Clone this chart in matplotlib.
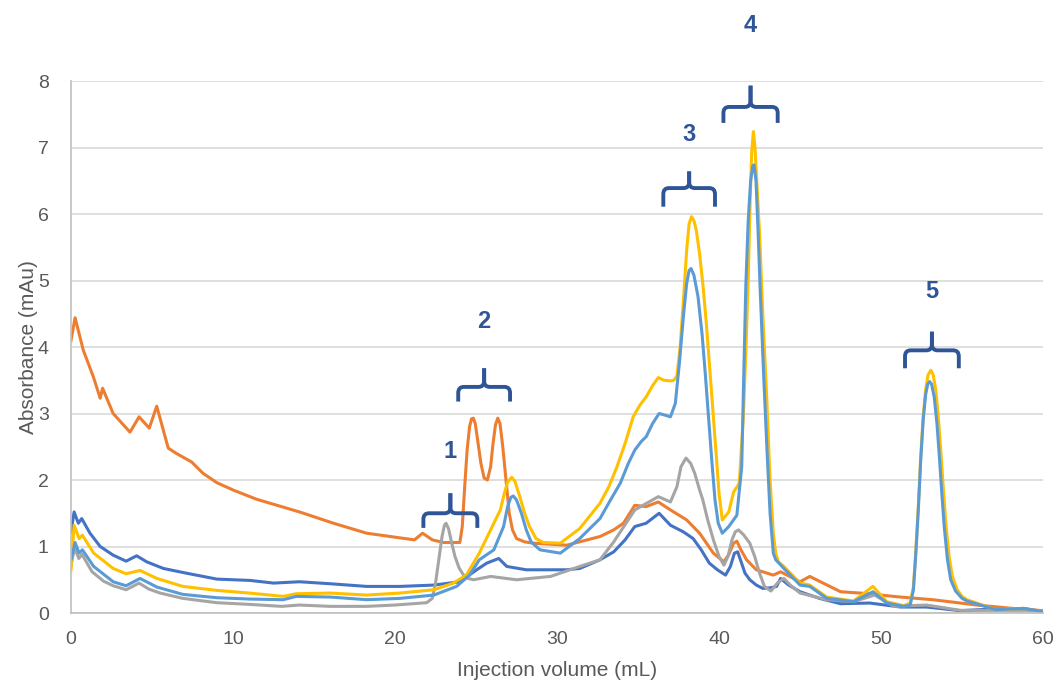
import matplotlib
matplotlib.use('Agg')
import matplotlib.pyplot as plt
from matplotlib.path import Path
from matplotlib.patches import PathPatch

plt.rcParams['font.family'] = ['Liberation Sans', 'DejaVu Sans']

# --- chromatogram traces ---
blue_x = [0, 0.19, 0.45, 0.66, 1.17, 1.8, 2.6, 3.4, 4.05, 4.67, 5.7, 7.1, 9.0, 11.05, 12.5, 14.1,
          16.0, 18.25, 20.3, 22.4, 24.0, 25.04, 25.66, 26.4, 26.9, 28.1, 30.6, 31.4, 32.65, 33.5,
          34.2, 34.8, 35.5, 36.3, 37.0, 37.8, 38.4, 38.9, 39.4, 39.9, 40.4, 40.7, 40.95, 41.15,
          41.35, 41.6, 41.9, 42.3, 42.7, 43.2, 43.55, 43.8, 44.3, 45.0, 46.2, 47.5, 49.3, 51.2,
          52.8, 54.9, 56.9, 59.0, 60]
blue_y = [1.22, 1.52, 1.35, 1.42, 1.2, 1.0, 0.87, 0.78, 0.86, 0.77, 0.67, 0.6, 0.51, 0.49, 0.45, 0.47,
          0.44, 0.4, 0.4, 0.42, 0.47, 0.65, 0.75, 0.82, 0.7, 0.65, 0.65, 0.67, 0.8, 0.92,
          1.1, 1.3, 1.35, 1.5, 1.32, 1.22, 1.12, 0.95, 0.75, 0.65, 0.57, 0.7, 0.9, 0.92,
          0.78, 0.6, 0.5, 0.42, 0.37, 0.38, 0.4, 0.52, 0.42, 0.32, 0.22, 0.14, 0.15, 0.09,
          0.09, 0.035, 0.06, 0.06, 0.02]

orange_x = [0, 0.25, 0.76, 1.38, 1.8, 1.95, 2.6, 3.64, 4.2, 4.83, 5.29, 6.0, 6.5, 7.45, 8.15, 9.0,
            10.0, 11.46, 14.1, 16.2, 18.25, 20.3, 21.2, 21.7, 22.3, 23.0, 24.0, 24.15, 24.3, 24.45,
            24.6, 24.72, 24.83, 24.95, 25.1, 25.3, 25.5, 25.7, 25.9, 26.05, 26.2, 26.34, 26.48,
            26.65, 26.85, 27.05, 27.25, 27.5, 28.0, 28.5, 30.6, 32.65, 33.5, 34.1, 34.8, 35.5,
            36.25, 37.0, 38.0, 38.8, 39.65, 40.3, 40.6, 40.9, 41.1, 41.35, 41.7, 42.3, 43.35,
            43.8, 45.0, 45.6, 47.5, 48.7, 51.2, 53.2, 55.9, 58.1, 60]
orange_y = [4.1, 4.44, 3.95, 3.55, 3.23, 3.38, 3.0, 2.72, 2.95, 2.78, 3.11, 2.48, 2.4, 2.27, 2.1, 1.96,
            1.85, 1.71, 1.52, 1.35, 1.2, 1.13, 1.1, 1.2, 1.1, 1.06, 1.06, 1.3, 1.9, 2.45,
            2.8, 2.92, 2.93, 2.85, 2.6, 2.25, 2.03, 2.0, 2.2, 2.55, 2.83, 2.93, 2.85,
            2.5, 2.0, 1.5, 1.25, 1.12, 1.07, 1.05, 1.02, 1.15, 1.25, 1.35, 1.62, 1.6,
            1.67, 1.55, 1.4, 1.2, 0.9, 0.77, 0.88, 1.05, 1.08, 0.95, 0.8, 0.65, 0.57,
            0.62, 0.47, 0.55, 0.32, 0.3, 0.24, 0.2, 0.12, 0.07, 0.035]

gray_x = [0, 0.22, 0.48, 0.68, 1.3, 2.0, 2.6, 3.4, 4.2, 4.8, 5.5, 6.9, 9.0, 11.0, 13.0, 14.1, 16.0,
          18.25, 20.0, 21.95, 22.3, 22.5, 22.7, 22.9, 23.05, 23.15, 23.3, 23.5, 23.7, 23.95, 24.2,
          24.5, 24.85, 25.9, 27.5, 29.6, 31.4, 32.65, 33.5, 34.8, 36.25, 37.0, 37.4, 37.65, 37.96,
          38.25, 38.5, 38.8, 39.0, 39.3, 39.65, 40.0, 40.3, 40.55, 40.8, 41.0, 41.2, 41.5, 41.9,
          42.2, 42.5, 42.8, 43.2, 43.6, 44.0, 44.4, 45.0, 46.65, 48.3, 49.6, 50.8, 52.8, 54.9,
          57.0, 59.0, 60]
gray_y = [0.72, 0.98, 0.82, 0.88, 0.62, 0.48, 0.41, 0.35, 0.45, 0.36, 0.3, 0.22, 0.155, 0.13, 0.1,
          0.12, 0.1, 0.1, 0.12, 0.155, 0.22, 0.45, 0.8, 1.15, 1.32, 1.35, 1.27, 1.05, 0.85, 0.68,
          0.58, 0.52, 0.5, 0.55, 0.5, 0.55, 0.7, 0.8, 1.07, 1.55, 1.75, 1.67, 1.9, 2.2, 2.33,
          2.25, 2.1, 1.85, 1.7, 1.4, 1.1, 0.85, 0.72, 0.85, 1.1, 1.22, 1.25, 1.18, 1.05,
          0.85, 0.6, 0.4, 0.33, 0.45, 0.52, 0.42, 0.3, 0.2, 0.17, 0.27, 0.1, 0.12, 0.04,
          0.04, 0.04, 0.03]

yellow_x = [0, 0.19, 0.5, 0.7, 1.4, 2.6, 3.4, 4.26, 5.3, 6.9, 9.0, 11.0, 13.1, 13.9, 16.0, 18.25,
            20.3, 22.4, 23.6, 24.4, 25.2, 26.0, 26.5, 26.75, 26.95, 27.2, 27.4, 27.7, 28.0, 28.3,
            28.7, 29.15, 30.2, 31.4, 32.65, 33.2, 33.7, 34.2, 34.7, 35.1, 35.5, 35.9, 36.25, 36.6,
            37.0, 37.2, 37.4, 37.6, 37.8, 38.0, 38.15, 38.3, 38.45, 38.6, 38.8, 39.0, 39.2, 39.45,
            39.65, 39.85, 40.0, 40.2, 40.6, 40.9, 41.25, 41.5, 41.65, 41.8, 41.92, 42.02, 42.12,
            42.22, 42.35, 42.5, 42.7, 42.95, 43.15, 43.35, 43.5, 43.66, 44.0, 45.0, 45.6, 46.65,
            48.3, 49.5, 50.35, 51.4, 51.8, 52.0, 52.15, 52.3, 52.45, 52.6, 52.75, 52.9, 53.07,
            53.22, 53.38, 53.55, 53.7, 53.85, 54.0, 54.2, 54.4, 54.7, 55.0, 55.3, 57.1, 58.8, 60]
yellow_y = [0.65, 1.32, 1.12, 1.17, 0.9, 0.67, 0.59, 0.64, 0.52, 0.4, 0.34, 0.3, 0.25, 0.29, 0.3, 0.27,
            0.3, 0.35, 0.45, 0.57, 0.9, 1.3, 1.55, 1.8, 1.97, 2.04, 1.98, 1.75, 1.5, 1.3,
            1.12, 1.06, 1.05, 1.27, 1.65, 1.9, 2.2, 2.55, 2.95, 3.12, 3.25, 3.42, 3.54, 3.5,
            3.49, 3.5, 3.56, 4.0, 4.7, 5.45, 5.85, 5.96, 5.9, 5.75, 5.4, 4.95, 4.4, 3.6,
            2.95, 2.3, 1.8, 1.4, 1.52, 1.82, 1.95, 2.95, 3.9, 5.0, 6.2, 6.95, 7.24,
            7.0, 6.4, 5.71, 4.5, 3.2, 2.0, 1.2, 0.9, 0.77, 0.7, 0.45, 0.42, 0.24,
            0.18, 0.4, 0.17, 0.11, 0.15, 0.4, 0.95, 1.6, 2.35, 2.95, 3.35, 3.58, 3.65,
            3.58, 3.35, 2.9, 2.4, 1.85, 1.35, 0.85, 0.55, 0.35, 0.25, 0.2, 0.05, 0.07, 0.02]

lblue_x = [0, 0.25, 0.5, 0.7, 1.4, 2.6, 3.4, 4.26, 5.3, 6.9, 9.0, 11.0, 13.1, 13.9, 16.0, 18.25,
           20.3, 22.4, 23.8, 24.6, 25.2, 26.1, 26.7, 26.95, 27.15, 27.3, 27.5, 27.8, 28.1, 28.4,
           28.95, 30.2, 31.4, 32.65, 33.3, 33.9, 34.4, 34.8, 35.2, 35.5, 35.9, 36.3, 36.6, 37.0,
           37.3, 37.55, 37.8, 38.0, 38.15, 38.27, 38.45, 38.7, 38.95, 39.15, 39.35, 39.55, 39.75,
           39.95, 40.2, 40.6, 41.1, 41.4, 41.5, 41.65, 41.8, 41.95, 42.08, 42.16, 42.28, 42.4,
           42.55, 42.75, 42.95, 43.15, 43.35, 43.5, 43.7, 44.0, 45.0, 45.6, 46.65, 48.3, 49.5,
           50.35, 51.4, 51.8, 52.0, 52.15, 52.3, 52.45, 52.6, 52.75, 52.88, 53.0, 53.12, 53.28,
           53.45, 53.6, 53.75, 53.9, 54.1, 54.3, 54.6, 55.0, 55.3, 57.1, 58.8, 60]
lblue_y = [0.8, 1.06, 0.9, 0.95, 0.7, 0.47, 0.41, 0.52, 0.39, 0.28, 0.23, 0.21, 0.2, 0.25, 0.24, 0.2,
           0.22, 0.27, 0.4, 0.57, 0.8, 0.95, 1.3, 1.6, 1.74, 1.76, 1.7, 1.5, 1.25, 1.07,
           0.95, 0.9, 1.12, 1.42, 1.7, 1.95, 2.25, 2.45, 2.58, 2.65, 2.85, 3.0, 2.98, 2.95,
           3.15, 3.75, 4.46, 4.95, 5.15, 5.18, 5.08, 4.76, 4.2, 3.6, 2.95, 2.3, 1.7,
           1.35, 1.2, 1.3, 1.47, 2.2, 3.3, 4.9, 5.9, 6.5, 6.72, 6.74, 6.5, 5.8,
           4.8, 3.6, 2.5, 1.5, 0.9, 0.8, 0.75, 0.67, 0.42, 0.4, 0.22, 0.17, 0.32,
           0.15, 0.1, 0.12, 0.35, 0.9, 1.55, 2.3, 2.9, 3.28, 3.44, 3.48, 3.44, 3.25,
           2.85, 2.35, 1.8, 1.3, 0.8, 0.5, 0.33, 0.22, 0.18, 0.05, 0.07, 0.02]

# peak groups: label, brace left/right ends, bottom of brace ends, bar, tip, label height
peak_labels = ['1', '2', '3', '4', '5']
brace_left = [21.75, 23.9, 36.56, 40.27, 51.48]
brace_right = [25.08, 27.1, 39.75, 43.62, 54.8]
brace_bottom = [1.28, 3.18, 6.11, 7.37, 3.68]
brace_top = [1.5, 3.4, 6.39, 7.61, 3.95]
brace_tip = [1.8, 3.68, 6.64, 7.93, 4.23]
label_y = [2.43, 4.38, 7.19, 8.84, 4.83]

fig = plt.figure(figsize=(10.57, 6.86), dpi=100)
ax = fig.add_axes([0.0672, 0.1064, 0.9196, 0.7755])

lw = 2.2
ax.plot(blue_x, blue_y, color='#4472C4', lw=lw, solid_joinstyle='round')
ax.plot(orange_x, orange_y, color='#ED7D31', lw=lw, solid_joinstyle='round')
ax.plot(gray_x, gray_y, color='#A5A5A5', lw=lw, solid_joinstyle='round')
ax.plot(yellow_x, yellow_y, color='#FFC000', lw=lw, solid_joinstyle='round')
ax.plot(lblue_x, lblue_y, color='#5B9BD5', lw=lw, solid_joinstyle='round')

brace_col = '#2F5597'
rx, ry = 0.35, 0.09
for lab, l, r, b, t, tip, ly in zip(peak_labels, brace_left, brace_right, brace_bottom,
                                     brace_top, brace_tip, label_y):
    c = (l + r) / 2
    for side, sgn in ((l, 1), (r, -1)):
        verts = [(side, b), (side, t - ry), (side, t), (side + sgn * rx, t),
                 (c - sgn * rx, t), (c, t), (c, t + ry), (c, tip)]
        codes = [Path.MOVETO, Path.LINETO, Path.CURVE3, Path.CURVE3,
                 Path.LINETO, Path.CURVE3, Path.CURVE3, Path.LINETO]
        ax.add_patch(PathPatch(Path(verts, codes), fill=False, ec=brace_col, lw=2.8,
                               capstyle='butt', clip_on=False, zorder=5))
    ax.text(c, ly, lab, color=brace_col, fontsize=17, fontweight='bold',
            ha='center', va='center', clip_on=False)

ax.set_xlim(0, 60)
ax.set_ylim(0, 8)
ax.set_xticks(range(0, 61, 10))
ax.set_yticks(range(0, 9))
ax.grid(axis='y', color='#D9D9D9', lw=1.2)
ax.set_axisbelow(True)
for s in ('top', 'right'):
    ax.spines[s].set_visible(False)
for s in ('left', 'bottom'):
    ax.spines[s].set_color('#BFBFBF')
    ax.spines[s].set_linewidth(1.2)
ax.tick_params(length=0, labelsize=14, labelcolor='#595959')
ax.tick_params(axis='y', pad=16)
ax.tick_params(axis='x', pad=13)
ax.set_xlabel('Injection volume (mL)', fontsize=15, color='#595959', labelpad=9)
ax.set_ylabel('Absorbance (mAu)', fontsize=15, color='#595959', labelpad=0)

fig.savefig('out.png', dpi=100)
